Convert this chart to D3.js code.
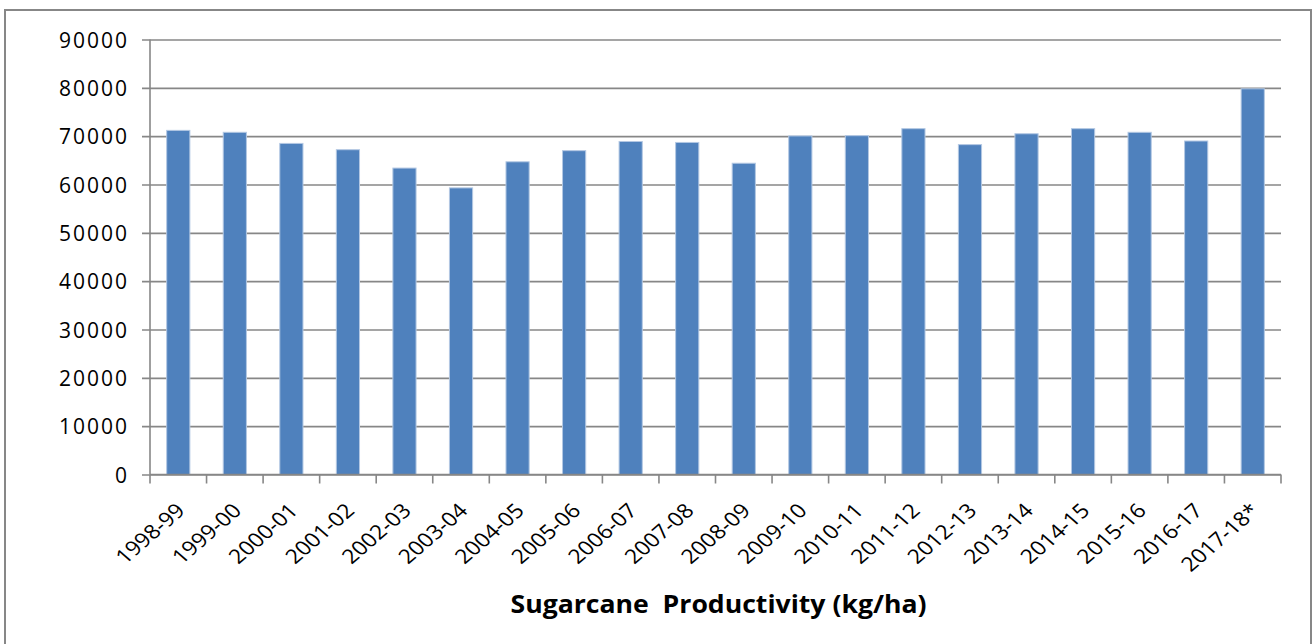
<html>
<head>
<script src="https://d3js.org/d3.v7.min.js"></script>
<style>
  body { margin: 0; background: #fff; }
  text { font-family: "Open Sans", sans-serif; fill: #000; }
</style>
</head>
<body>
<svg id="chart" width="1316" height="644"></svg>
<script>
  // seasons on the x axis
  var seasons = ['1998-99','1999-00','2000-01','2001-02','2002-03','2003-04','2004-05',
    '2005-06','2006-07','2007-08','2008-09','2009-10','2010-11','2011-12','2012-13',
    '2013-14','2014-15','2015-16','2016-17','2017-18*'];
  // productivity kg/ha
  var productivity = [71200, 70800, 68500, 67200, 63400, 59300, 64700, 67000, 68900, 68700,
    64400, 70050, 70100, 71550, 68250, 70500, 71550, 70800, 69000, 79800];
  var yTicks = [0, 10000, 20000, 30000, 40000, 50000, 60000, 70000, 80000, 90000];

  var plotL = 150, plotR = 1281, plotT = 39.5, plotB = 474.5;
  var grey = '#878787';

  var svg = d3.select('#chart');

  // outer frame
  svg.append('rect')
    .attr('x', 5).attr('y', 10)
    .attr('width', 1306).attr('height', 640)
    .attr('fill', 'none')
    .attr('stroke', grey)
    .attr('stroke-width', 2);

  var x = d3.scaleBand()
    .domain(seasons)
    .range([plotL, plotR])
    .padding(0);

  var y = d3.scaleLinear()
    .domain([0, 90000])
    .range([plotB, plotT]);

  // gridlines + y axis
  var yAxis = d3.axisLeft(y)
    .tickValues(yTicks)
    .tickSize(-(plotR - plotL))
    .tickPadding(0)
    .tickFormat(d3.format('d'));
  var gy = svg.append('g')
    .attr('transform', 'translate(' + plotL + ',0)')
    .call(yAxis);
  gy.select('.domain').remove();
  gy.selectAll('.tick line')
    .attr('x1', -8)
    .attr('stroke', grey)
    .attr('stroke-width', 1.6);
  gy.selectAll('.tick text')
    .attr('x', -21)
    .attr('dy', '0.36em')
    .style('font-size', '21px')
    .style('letter-spacing', '2px')
    .style('font-family', '"Open Sans", sans-serif')
    .attr('fill', '#000');

  // y axis line
  svg.append('line')
    .attr('x1', plotL).attr('x2', plotL)
    .attr('y1', plotT).attr('y2', plotB)
    .attr('stroke', grey).attr('stroke-width', 1.6);

  // bars
  var barW = x.bandwidth() * 0.41;
  svg.selectAll('rect.bar')
    .data(seasons)
    .enter()
    .append('rect')
    .attr('class', 'bar')
    .attr('x', function(d) { return x(d) + (x.bandwidth() - barW) / 2; })
    .attr('width', barW)
    .attr('y', function(d, i) { return y(productivity[i]); })
    .attr('height', function(d, i) { return plotB - y(productivity[i]); })
    .attr('fill', '#4f81bd')
    .attr('stroke', '#b3c8e3')
    .attr('stroke-width', 1);

  // x axis line and category ticks
  svg.append('line')
    .attr('x1', plotL).attr('x2', plotR)
    .attr('y1', plotB).attr('y2', plotB)
    .attr('stroke', grey).attr('stroke-width', 1.6);
  var tickPos = seasons.map(function(d) { return x(d); }).concat([plotR]);
  svg.selectAll('line.xtick')
    .data(tickPos)
    .enter()
    .append('line')
    .attr('class', 'xtick')
    .attr('x1', function(d) { return d; })
    .attr('x2', function(d) { return d; })
    .attr('y1', plotB)
    .attr('y2', plotB + 9)
    .attr('stroke', grey).attr('stroke-width', 1.6);

  // rotated season labels (slightly stretched sideways like the original)
  svg.selectAll('text.xlab')
    .data(seasons)
    .enter()
    .append('text')
    .attr('class', 'xlab')
    .attr('text-anchor', 'end')
    .attr('transform', function(d) {
      return 'translate(' + (x(d) + x.bandwidth() / 2 + 8) + ',' + (plotB + 37.5) + ') scale(1.15,1) rotate(-45)';
    })
    .style('font-size', '20px')
    .text(function(d) { return d; });

  // axis title
  svg.append('text')
    .attr('x', 718.5)
    .attr('y', 613)
    .attr('text-anchor', 'middle')
    .attr('textLength', 416)
    .attr('lengthAdjust', 'spacingAndGlyphs')
    .style('font-size', '25px')
    .style('font-weight', 'bold')
    .style('white-space', 'pre')
    .text('Sugarcane  Productivity (kg/ha)');
</script>
</body>
</html>
